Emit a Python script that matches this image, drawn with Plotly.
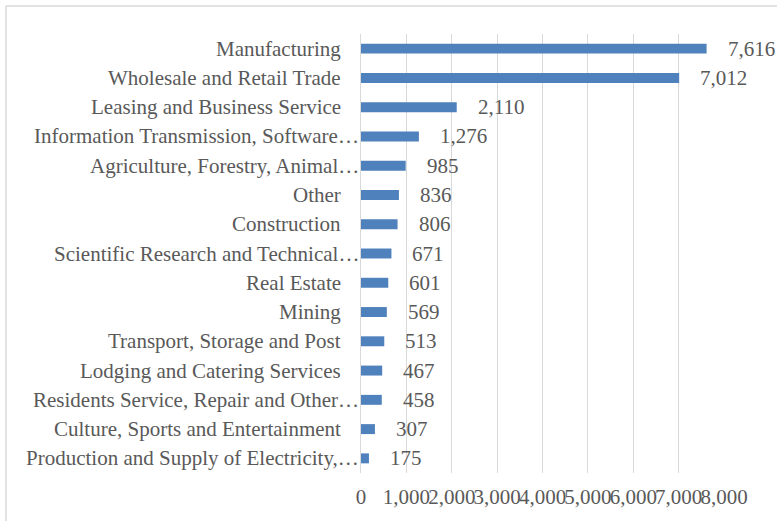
import plotly.graph_objects as go

# Industries, listed top to bottom
industries = [
    "Manufacturing",
    "Wholesale and Retail Trade",
    "Leasing and Business Service",
    "Information Transmission, Software…",
    "Agriculture, Forestry, Animal…",
    "Other",
    "Construction",
    "Scientific Research and Technical…",
    "Real Estate",
    "Mining",
    "Transport, Storage and Post",
    "Lodging and Catering Services",
    "Residents Service, Repair and Other…",
    "Culture, Sports and Entertainment",
    "Production and Supply of Electricity,…",
]
counts = [7616, 7012, 2110, 1276, 985, 836, 806, 671, 601, 569, 513, 467, 458, 307, 175]
x_ticks = [0, 1000, 2000, 3000, 4000, 5000, 6000, 7000, 8000]
x_tick_labels = ["0", "1,000", "2,000", "3,000", "4,000", "5,000", "6,000", "7,000", "8,000"]

FONT = "Liberation Serif, Times New Roman, serif"
TEXT = "#595959"
GRID = "#d9d9d9"
FS = 21
W, H = 777, 521
M = dict(l=361, r=53, t=34, b=48)

fig = go.Figure()
fig.add_trace(go.Bar(
    x=counts, y=industries, orientation="h",
    marker=dict(color="#4f81bd", line=dict(width=0)),
    width=0.34, hoverinfo="x+y",
))

# value labels to the right of each bar
for name, v in zip(industries, counts):
    fig.add_annotation(
        x=v, y=name, xref="x", yref="y", text=f"{v:,}",
        xanchor="left", yanchor="middle", xshift=19, showarrow=False,
        font=dict(family=FONT, size=FS, color=TEXT),
    )

# category labels; truncated names run right up to the axis
for name in industries:
    fig.add_annotation(
        x=0, y=name, xref="paper", yref="y", text=name,
        xanchor="right", yanchor="middle",
        xshift=0 if name.endswith("…") else -18, showarrow=False,
        font=dict(family=FONT, size=FS, color=TEXT),
    )

# outer frame (top and left edges)
pw = W - M["l"] - M["r"]
ph = H - M["t"] - M["b"]
def px_x(p):
    return (p - M["l"]) / pw
def px_y(p):
    return (H - M["b"] - p) / ph
fig.add_shape(type="line", xref="paper", yref="paper",
              x0=px_x(6), x1=px_x(W + 5), y0=px_y(6), y1=px_y(6),
              line=dict(color=GRID, width=1.5))
fig.add_shape(type="line", xref="paper", yref="paper",
              x0=px_x(6), x1=px_x(6), y0=px_y(6), y1=px_y(H + 5),
              line=dict(color=GRID, width=1.5))

fig.update_layout(
    width=W, height=H, margin=M,
    paper_bgcolor="white", plot_bgcolor="white",
    showlegend=False,
    font=dict(family=FONT, size=FS, color=TEXT),
)
fig.update_xaxes(
    range=[0, 8000], tickvals=x_ticks, ticktext=x_tick_labels,
    tickangle=0, automargin=False,
    showgrid=True, gridcolor=GRID, gridwidth=1,
    zeroline=False, showline=False, ticks="",
    ticklabelstandoff=9,
    tickfont=dict(family=FONT, size=FS, color=TEXT),
)
fig.update_yaxes(
    categoryorder="array", categoryarray=industries,
    range=[len(industries) - 0.5, -0.5],
    automargin=False, showticklabels=False,
    showgrid=False, zeroline=False,
    showline=True, linecolor=GRID, linewidth=1, ticks="",
)

fig.write_html("out.html")
